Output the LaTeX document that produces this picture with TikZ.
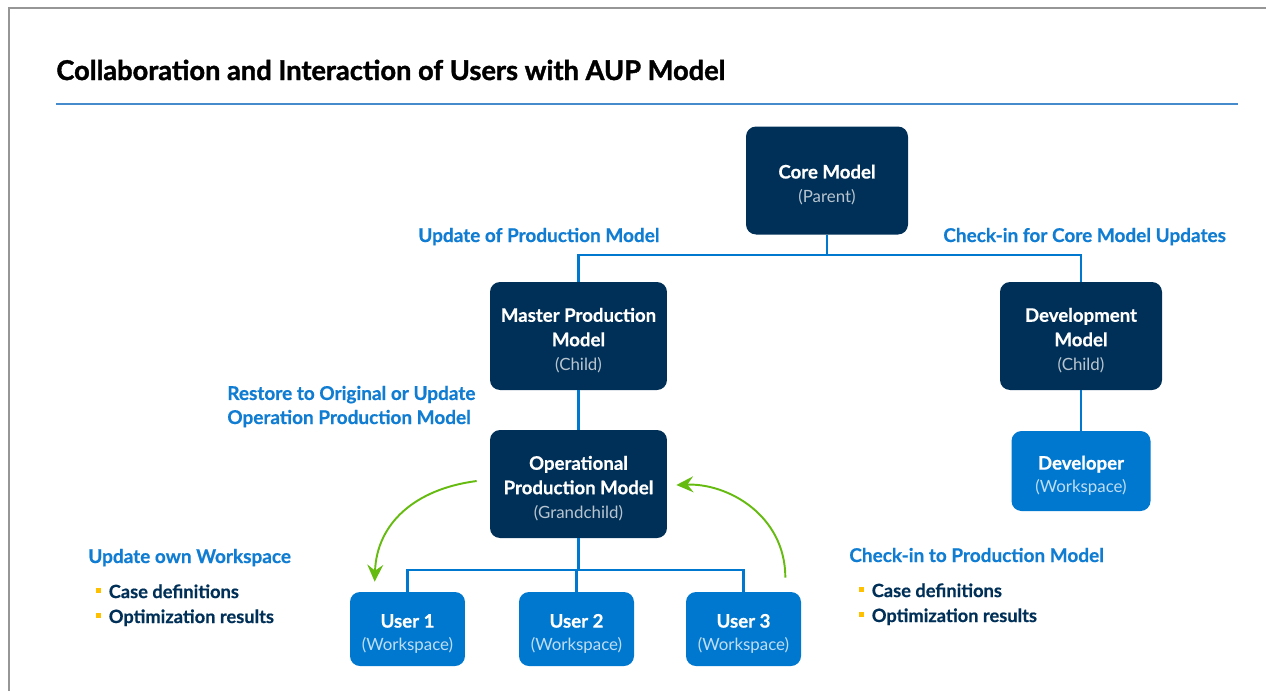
\documentclass[tikz,border=0pt]{standalone}
\usepackage{fontspec}
\setmainfont{Lato}[BoldFeatures={FakeBold=0.6}]
\newfontfamily\headfont{Lato}[BoldFeatures={FakeBold=1.4}]
\usepackage{tikz}
\usetikzlibrary{arrows.meta, positioning, calc}
\definecolor{navy}{RGB}{0,48,87}
\definecolor{boxblue}{RGB}{0,120,208}
\definecolor{labelblue}{RGB}{16,125,210}
\definecolor{arrowgreen}{RGB}{102,187,17}
\definecolor{amber}{RGB}{255,192,0}
\definecolor{framegray}{RGB}{150,150,150}
\definecolor{ruleblue}{RGB}{70,140,205}
\newcommand{\subtxt}[2][white!72!navy]{{\fontsize{9.6}{12}\selectfont\mdseries\color{#1}\raisebox{0pt}[\height][0pt]{#2}}}
\newcommand{\topstrut}{\rule{0pt}{11.6pt}}
\newcommand{\bul}{\textcolor{amber}{\rule[0.28em]{0.26em}{0.26em}}\hspace{0.42em}}
\tikzset{
  model/.style={
      fill=navy,
      rectangle,
      rounded corners=0.2cm,
      text=white,
      minimum width=3.24cm,
      minimum height=2.16cm,
      inner sep=0pt,
      align=center,
      font=\bfseries\fontsize{10.6}{13.9}\selectfont
  },
  workspace/.style={
      model,
      fill=boxblue,
      minimum width=2.3cm,
      minimum height=1.48cm,
      font=\bfseries\fontsize{10.6}{13.2}\selectfont
  },
  caption/.style={
      text=labelblue,
      anchor=base west,
      inner sep=0pt,
      align=left,
      font=\bfseries\fontsize{10.8}{13.7}\selectfont
  },
  items/.style={
      text=navy,
      anchor=base west,
      inner sep=0pt,
      align=left,
      font=\bfseries\fontsize{10.4}{14.2}\selectfont
  },
  link/.style={draw=boxblue, line width=1.2pt},
  flow/.style={draw=arrowgreen, line width=1.1pt, -{Stealth[length=0.34cm, width=0.32cm, inset=0.12cm]}}
}

\begin{document}
\begin{tikzpicture}[x=0.02cm, y=-0.02cm]
      \useasboundingbox (0,0) rectangle (1266,691);
      % Frame and heading
      \draw[framegray, line width=0.85pt] (9,691) -- (9,8) -- (1266,8);
      \node (title) [anchor=base west, inner sep=0pt, font=\headfont\bfseries\fontsize{15.5}{18}\selectfont] at (56,80) {Collaboration and Interaction of Users with AUP Model};
      \draw[ruleblue, line width=0.7pt] (56,104) -- (1238,104);

      % Model boxes
      \node (core) [model] at (827,180.5) {\topstrut Core Model\\ \subtxt{(Parent)}};
      \node (master) [model, minimum width=3.54cm] at (578.5,336) {\topstrut Master Production\\ Model\\ \subtxt{(Child)}};
      \node (devmodel) [model] at (1081,336) {\topstrut Development\\ Model\\ \subtxt{(Child)}};
      \node (oper) [model, minimum width=3.54cm] at (578.5,484) {\topstrut Operational\\ Production Model\\ \subtxt{(Grandchild)}};

      % Workspaces
      \node (developer) [workspace, minimum width=2.78cm, minimum height=1.6cm] at (1081,471) {\topstrut Developer\\ \subtxt[white!75!boxblue]{(Workspace)}};
      \node (user1) [workspace] at (407.5,629) {\topstrut User 1\\ \subtxt[white!75!boxblue]{(Workspace)}};
      \node (user2) [workspace] at (576.5,629) {\topstrut User 2\\ \subtxt[white!75!boxblue]{(Workspace)}};
      \node (user3) [workspace] at (743.5,629) {\topstrut User 3\\ \subtxt[white!75!boxblue]{(Workspace)}};

      % Labels
      \node (updprod) [caption] at (418,242) {Update of Production Model};
      \node (checkcore) [caption] at (943,242) {Check-in for Core Model Updates};
      \node (restore) [caption] at (227,424) {Restore to Original or Update\\ Operation Production Model};
      \node (updown) [caption] at (88,563) {Update own Workspace};
      \node (checkprod) [caption] at (849,562) {Check-in to Production Model};
      \node (leftitems) [items] at (96,623) {\bul Case definitions\\ \bul Optimization results};
      \node (rightitems) [items] at (859,622) {\bul Case definitions\\ \bul Optimization results};

      % Connections
      \draw[link] (core.south) -- ++(0,20) -| (master.north);
      \draw[link] (core.south) -- ++(0,20) -| (devmodel.north);
      \draw[link] (master.south) -- (oper.north);
      \draw[link] (devmodel.south) -- (developer.north);
      \draw[link] (oper.south) -- ++(0,32) -| (user1.north);
      \draw[link] (oper.south) -- ++(0,32) -| (user2.north);
      \draw[link] (oper.south) -- ++(0,32) -| (user3.north);
      \draw[flow] ($(oper.west)+(-13,-3)$) .. controls +(-62,8) and +(2,-58) .. ($(user1.north west)+(25,-10)$);
      \draw[flow] ($(user3.north east)+(-16,-14)$) .. controls +(0,-62) and +(52,-2) .. ($(oper.east)+(9,1)$);
    \end{tikzpicture}
\end{document}
